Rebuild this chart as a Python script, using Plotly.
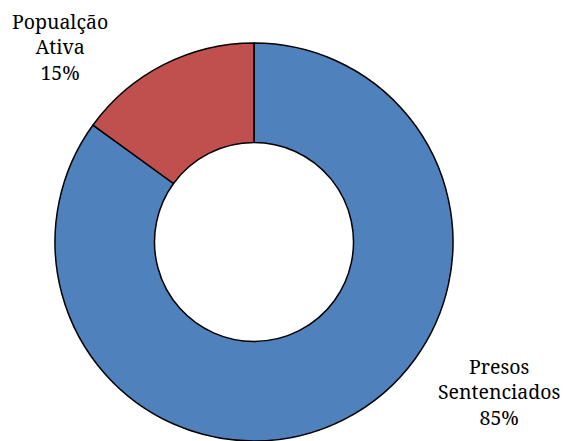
import plotly.graph_objects as go

# Share of each group (percent)
labels = ["Presos<br>Sentenciados", "Popualção<br>Ativa"]
values = [85, 15]
colors = ["#4F81BD", "#C0504D"]

W, H = 563, 441
ml, mr, mt, mb = 0, 55, 43, 0
plot_w = W - ml - mr
plot_h = H - mt - mb

fig = go.Figure(
    go.Pie(
        labels=labels,
        values=values,
        hole=0.5,
        sort=False,
        direction="clockwise",
        rotation=0,
        marker=dict(colors=colors, line=dict(color="black", width=1.5)),
        textinfo="none",
        hoverinfo="label+percent",
        showlegend=False,
    )
)


def to_paper(px, py):
    return (px - ml) / plot_w, (H - mb - py) / plot_h


# Category labels with their share, placed beside the ring
label_pos = [(499, 392), (60, 47)]
total = sum(values)
for lab, val, (px, py) in zip(labels, values, label_pos):
    xp, yp = to_paper(px, py)
    fig.add_annotation(
        x=xp, y=yp, xref="paper", yref="paper",
        text=f"{lab}<br>{round(val / total * 100)}%",
        showarrow=False, xanchor="center", yanchor="middle",
        align="center",
        font=dict(family="Noto Serif", size=19.5, color="black"),
    )

fig.update_layout(
    width=W, height=H,
    margin=dict(l=ml, r=mr, t=mt, b=mb),
    paper_bgcolor="white",
    plot_bgcolor="white",
)

fig.write_html("out.html")
